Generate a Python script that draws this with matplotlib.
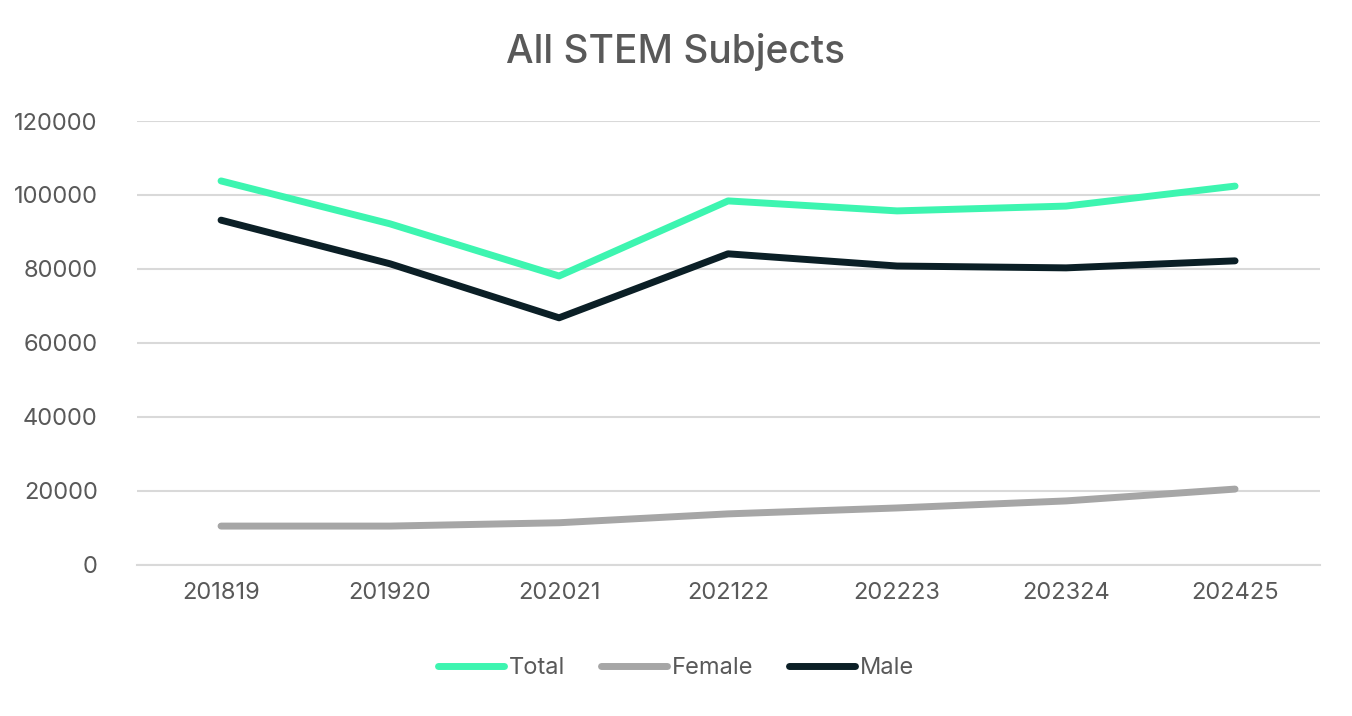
import matplotlib
matplotlib.use("Agg")
import matplotlib.pyplot as plt

years = ["201819", "201920", "202021", "202122", "202223", "202324", "202425"]
total = [103800, 92200, 78100, 98400, 95700, 97000, 102400]
female = [10500, 10500, 11400, 13800, 15400, 17300, 20500]
male = [93200, 81400, 66800, 84100, 80800, 80300, 82200]

plt.rcParams["font.family"] = ["Inter", "DejaVu Sans"]
text_color = "#595959"

fig = plt.figure(figsize=(13.52, 7.16), dpi=100)
ax = fig.add_axes([0.101, 0.211, 0.875, 0.62])

x = range(len(years))
ax.plot(x, total, color="#3df5b0", lw=5, label="Total", solid_capstyle="round")
ax.plot(x, female, color="#a6a6a6", lw=5, label="Female", solid_capstyle="round")
ax.plot(x, male, color="#0b1f26", lw=5, label="Male", solid_capstyle="round")

ax.set_xlim(-0.5, len(years) - 0.5)
ax.set_ylim(0, 120000)
ax.set_yticks(range(0, 120001, 20000))
ax.set_xticks(list(x))
ax.set_xticklabels(years)
ax.grid(axis="y", color="#d9d9d9", lw=1.5)
ax.set_axisbelow(True)
for s in ["top", "right", "left"]:
    ax.spines[s].set_visible(False)
ax.spines["bottom"].set_color("#d9d9d9")
ax.spines["bottom"].set_linewidth(1.5)
ax.tick_params(length=0, labelsize=17, colors=text_color, pad=12)
ax.tick_params(axis="y", pad=28)

fig.text(0.5, 0.927, "All STEM Subjects", ha="center", va="center", fontsize=28,
         color=text_color, fontweight="medium")
fig.legend(loc="center", bbox_to_anchor=(0.5, 0.067), ncol=3, frameon=False,
           fontsize=17, labelcolor=text_color, handlelength=2.8, handletextpad=0.2,
           columnspacing=1.5)

fig.savefig("out.png", dpi=100)
